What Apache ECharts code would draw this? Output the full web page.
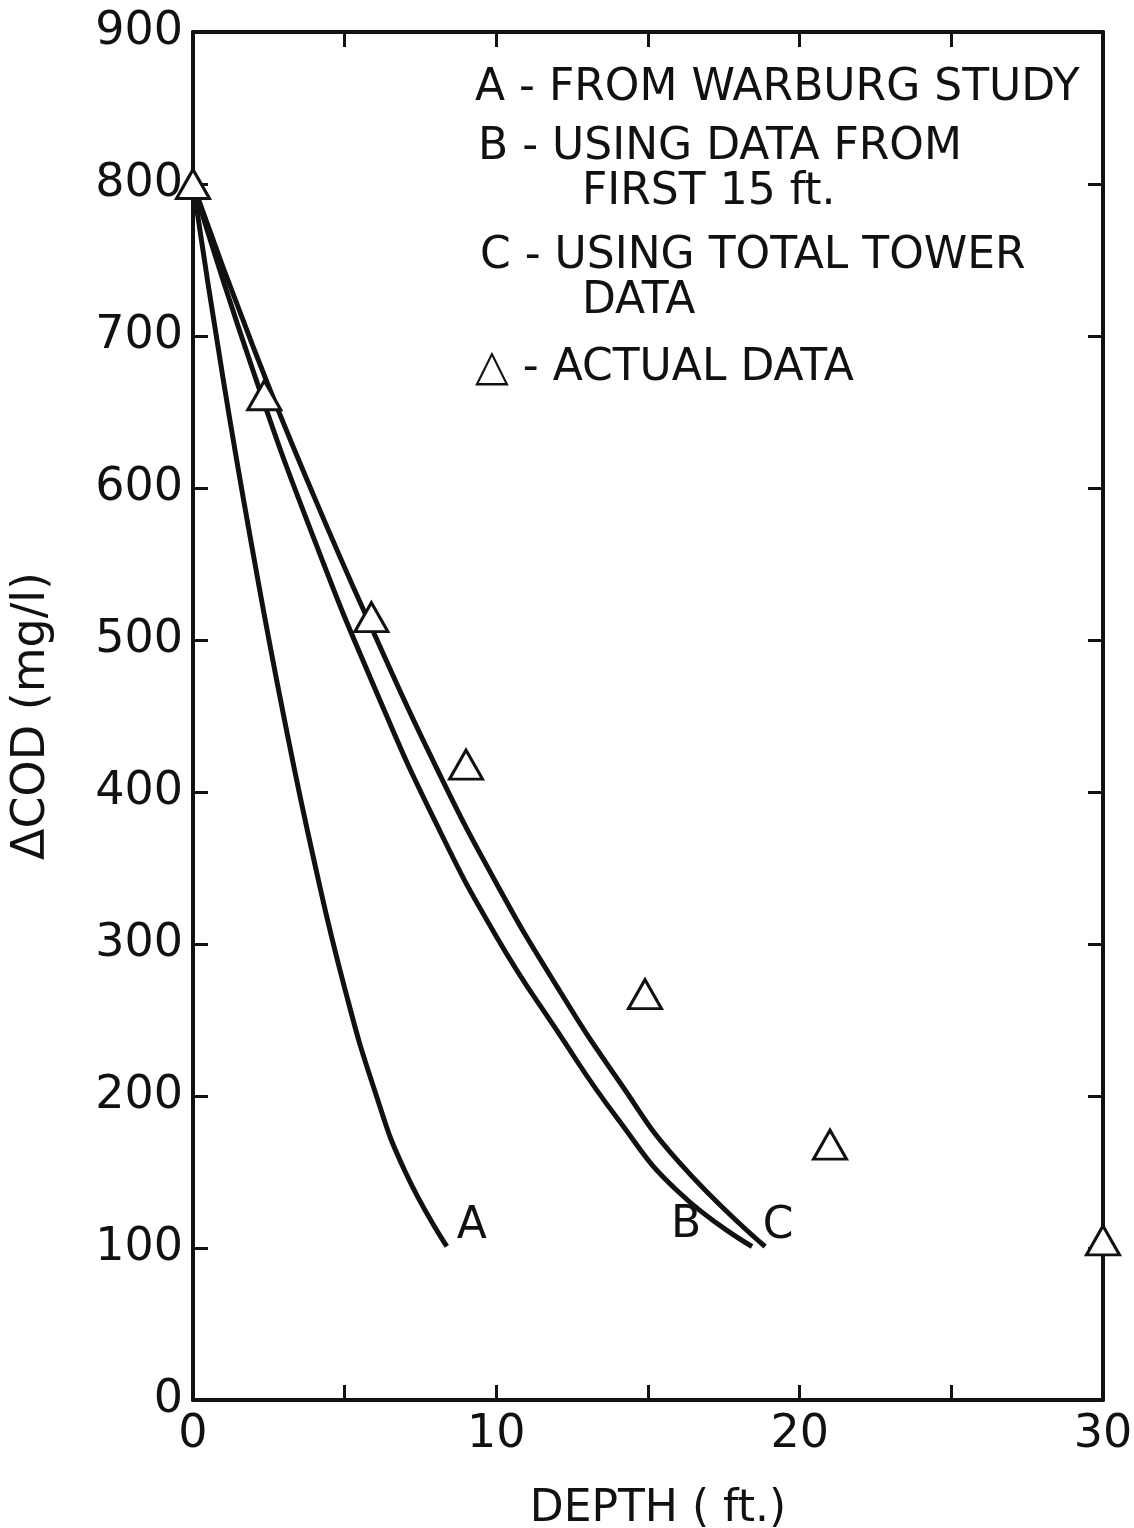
<!DOCTYPE html>
<html>
<head>
<meta charset="utf-8">
<script src="https://cdn.jsdelivr.net/npm/echarts/dist/echarts.min.js"></script>
<style>
  html, body { margin: 0; background: #fff; }
  #main { width: 1134px; height: 1528px; }
</style>
</head>
<body>
<div id="main"></div>
<script>
// curve A - from Warburg study
var depthA = [0, 1, 2, 3, 4, 5, 6, 7, 8.37];
var codA = [800, 671, 555, 449, 354, 271, 203, 150, 101];
// curve B - using data from first 15 ft
var depthB = [0, 2, 4, 6, 8, 10, 12, 14, 16, 18.43];
var codB = [800, 676, 566, 468, 380, 305, 243, 185, 137, 101];
// curve C - using total tower data
var depthC = [0, 2, 4, 6, 8, 10, 12, 14, 16, 18.86];
var codC = [800, 692, 594, 503, 417, 340, 272, 211, 157, 101];
// actual data (triangles)
var depthActual = [0, 2.35, 5.88, 9.0, 14.9, 21, 30];
var codActual = [800, 661, 515, 418, 267, 168, 105];

var xTicks = [0, 10, 20, 30];

function pairs(xs, ys) {
  return xs.map(function (x, i) { return [x, ys[i]]; });
}

var chart = echarts.init(document.getElementById('main'));
var ink = '#111';
var font = 'DejaVu Sans';

function curve(name, xs, ys, offset) {
  return {
    name: name,
    type: 'line',
    data: pairs(xs, ys),
    smooth: 0.5,
    showSymbol: false,
    lineStyle: { color: ink, width: 5 },
    endLabel: {
      show: true,
      formatter: name,
      color: ink,
      fontFamily: font,
      fontSize: 44,
      align: 'center',
      verticalAlign: 'middle',
      offset: offset
    },
    z: 2
  };
}

function legendLine(text, x, y) {
  return {
    type: 'text',
    left: x,
    top: y,
    style: {
      text: text,
      fill: ink,
      fontFamily: font,
      fontSize: 44
    }
  };
}

function frameAxis(pos, max, interval) {
  return {
    type: 'value',
    position: pos,
    min: 0,
    max: max,
    interval: interval,
    axisLine: { show: true, onZero: false, lineStyle: { color: ink, width: 4 } },
    axisTick: { show: true, inside: true, length: 15, lineStyle: { color: ink, width: 3 } },
    axisLabel: { show: false },
    splitLine: { show: false }
  };
}

var option = {
  backgroundColor: '#ffffff',
  animation: false,
  grid: { left: 193, right: 31, top: 32, bottom: 128, outerBoundsMode: 'none', containLabel: false },
  xAxis: [{
    type: 'value',
    min: 0,
    max: 30,
    interval: 5,
    name: 'DEPTH ( ft.)',
    nameLocation: 'middle',
    nameGap: 88,
    nameTextStyle: { color: ink, fontFamily: font, fontSize: 44, padding: [0, 0, 0, 20] },
    axisLine: { onZero: false, lineStyle: { color: ink, width: 4 } },
    axisTick: { inside: true, length: 15, lineStyle: { color: ink, width: 3 } },
    axisLabel: {
      color: ink, fontFamily: font, fontSize: 46, margin: 12,
      formatter: function (v) { return xTicks.indexOf(v) >= 0 ? String(v) : ''; }
    },
    splitLine: { show: false }
  }, frameAxis('top', 30, 5)],
  yAxis: [{
    type: 'value',
    min: 0,
    max: 900,
    interval: 100,
    name: 'ΔCOD (mg/l)',
    nameLocation: 'middle',
    nameGap: 138,
    nameTextStyle: { color: ink, fontFamily: font, fontSize: 46 },
    axisLine: { show: true, onZero: false, lineStyle: { color: ink, width: 4 } },
    axisTick: { show: true, inside: true, length: 15, lineStyle: { color: ink, width: 3 } },
    axisLabel: { color: ink, fontFamily: font, fontSize: 46, margin: 10 },
    splitLine: { show: false }
  }, frameAxis('right', 900, 100)],
  graphic: [
    legendLine('A - FROM WARBURG STUDY', 475, 67),
    legendLine('B - USING DATA FROM', 478, 126),
    legendLine('FIRST 15 ft.', 582, 171),
    legendLine('C - USING TOTAL TOWER', 480, 235),
    legendLine('DATA', 582, 280),
    legendLine('△ - ACTUAL DATA', 475, 347)
  ],
  series: [
    curve('A', depthA, codA, [17, -20]),
    curve('B', depthB, codB, [-74, -21]),
    curve('C', depthC, codC, [5, -20]),
    {
      name: 'Actual data',
      type: 'scatter',
      data: pairs(depthActual, codActual),
      symbol: 'triangle',
      symbolSize: [33, 29],
      itemStyle: { color: '#ffffff', borderColor: ink, borderWidth: 3, opacity: 1 },
      clip: false,
      z: 5
    }
  ]
};

chart.setOption(option);
</script>
</body>
</html>
